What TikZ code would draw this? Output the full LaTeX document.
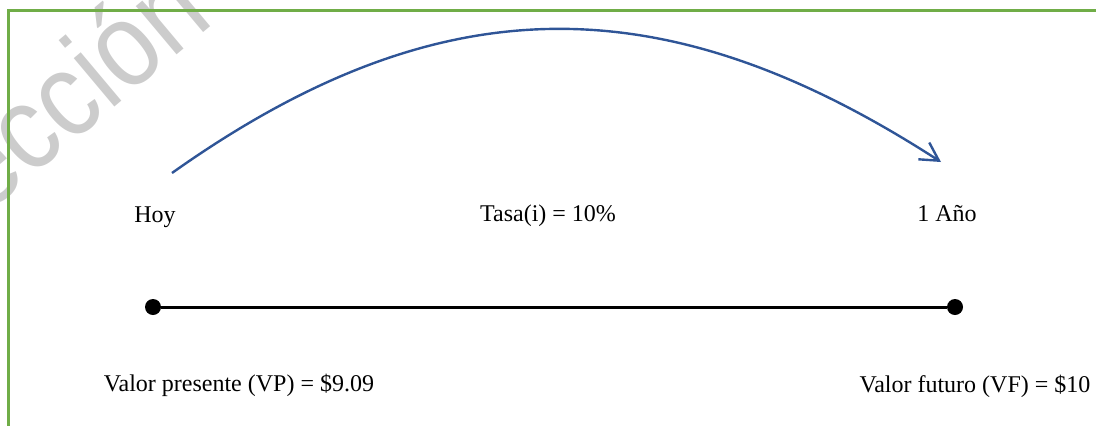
\documentclass[tikz,border=0pt]{standalone}
\usepackage{fontspec}
\setmainfont{Liberation Serif}
\newfontfamily\markfont{Liberation Sans}
\usetikzlibrary{arrows.meta}
\definecolor{framegreen}{RGB}{112,173,71}
\definecolor{arcblue}{RGB}{47,85,151}

\begin{document}
\begin{tikzpicture}[x=0.5pt, y=-0.5pt,
  lbl/.style={anchor=base, inner sep=0pt, font=\fontsize{12}{14}\selectfont},
  dot/.style={circle, fill=black, inner sep=0pt, minimum size=8pt},
  flow/.style={-{Straight Barb[length=9pt, width=10pt]}, draw=arcblue,
    line width=1.2pt},
  timeline/.style={line width=1.5pt, draw=black},
  wmark/.style={inner sep=0pt, anchor=base west, text=black!20,
    font=\markfont\fontsize{52}{56}\selectfont},
  frame/.style={draw=framegreen, line width=1.5pt}
]
  \useasboundingbox (0,0) rectangle (1096,425);
  \clip (0,0) rectangle (1096,425);

  \node[wmark, rotate=40, yscale=1.15] (sello) at (-15,216) {ección};
  \draw[frame] (8.5,10) rectangle (1200,520);

  \node[lbl] (hoy) at (155,222) {Hoy};
  \node[lbl] (tasa) at (548,221) {Tasa(i) = 10\%};
  \node[lbl] (anio) at (947,221) {1 Año};

  \node[dot] (inicio) at (153,307) {};
  \node[dot] (fin) at (955,307) {};
  \draw[timeline] (inicio) -- (fin);

  \node[lbl] (vp) at (239,391) {Valor presente (VP) = \$9.09};
  \node[lbl] (vf) at (975,392) {Valor futuro (VF) = \$10};

  \coordinate (arcstart) at (172,173);
  \coordinate (arcend) at (941,162);
  \draw[flow] (arcstart) .. controls (440,-17) and (664,-17) .. (arcend);
\end{tikzpicture}
\end{document}
